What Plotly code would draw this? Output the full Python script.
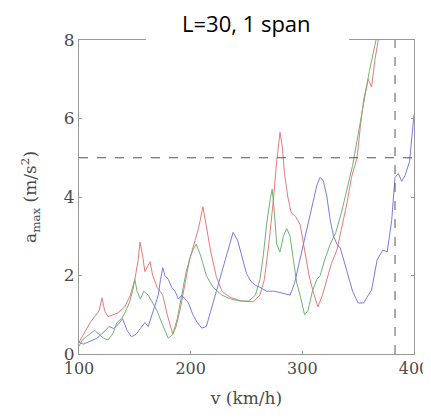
import plotly.graph_objects as go

# ---- data ----
v_red = [100,103,106,110,114,118,120.6,123,126,130,135,141,146,150,153,154.6,157,159,161,163.6,166,170,175,179,184,187,191,195,199,203,207,211,214,218,223,228,235,245,256,262,266,270,274,277,280,282,284,287,290,294,298,302,306,310,314,318,322,326,331,336,340,344,349,352,355,359,362,365,368]
a_red = [0.3,0.45,0.6,0.8,0.95,1.1,1.43,1.1,0.95,1.0,1.05,1.2,1.5,1.9,2.4,2.85,2.5,2.1,2.2,2.35,2.0,1.7,1.5,1.0,0.5,0.7,1.2,1.8,2.4,2.8,3.2,3.75,3.3,2.6,1.97,1.6,1.45,1.35,1.33,1.5,1.9,2.8,3.9,4.9,5.65,5.3,4.6,4.0,3.6,3.5,3.3,2.6,2.0,1.55,1.2,1.5,1.9,2.3,2.65,3.3,3.85,4.5,5.0,5.8,6.5,7.0,6.8,7.5,8.0]

v_green = [100,103,107,111,114,118,122,126,130,134,138,141,145,148,150,152,155,158,162,166,170,174,177,180,184,188,192,196,200,202,205,209,214,220,228,236,244,252,258,262,265,268,271,273,275,277,280,283,286,289,292,295,298,302,305,309,313,316,320,325,330,335,340,345,350,355,360,366]
a_green = [0.2,0.36,0.45,0.55,0.6,0.5,0.4,0.36,0.5,0.8,0.9,1.04,1.3,1.6,1.9,1.6,1.4,1.6,1.5,1.3,1.1,0.8,0.6,0.4,0.5,0.9,1.5,2.1,2.5,2.65,2.8,2.5,2.0,1.7,1.5,1.4,1.35,1.35,1.5,1.9,2.5,3.3,3.9,4.2,3.6,2.8,2.6,3.0,3.2,3.0,2.4,1.8,1.5,1.0,1.1,1.6,1.9,2.0,2.4,2.8,3.1,3.6,4.2,4.8,5.6,6.4,7.2,8.0]

v_blue = [100,104,108,112,116,120,124,127,131,135,139,143,147,151,155,159,162,165,168,171,173,175,177,180,183,186,189,192,195,198,202,206,210,214,218,222,226,230,234,238,242,246,250,254,258,262,268,275,282,289,293,297,301,305,309,313,316,319,322,325,328,331,334,337,341,345,350,355,358,362,367,372,376,380,383,386,389,392,396,400]
a_blue = [0.3,0.25,0.3,0.35,0.4,0.5,0.6,0.7,0.65,0.75,0.9,0.6,0.44,0.5,0.65,0.8,0.7,0.95,1.2,1.5,1.9,2.2,2.0,1.9,1.7,1.6,1.4,1.5,1.4,1.3,1.0,0.8,0.66,0.7,1.1,1.5,1.9,2.3,2.7,3.1,2.9,2.5,2.05,1.85,1.75,1.7,1.6,1.6,1.55,1.5,1.8,2.3,2.8,3.3,3.8,4.3,4.5,4.4,4.0,3.4,3.0,2.8,2.7,2.4,2.0,1.6,1.3,1.3,1.45,1.63,2.4,2.65,2.6,3.4,4.5,4.6,4.4,4.55,4.9,6.1]

limit_a = 5
limit_v = 383
x_range = [100, 400]
y_range = [0, 8]
x_ticks = [100, 200, 300, 400]
y_ticks = [0, 2, 4, 6, 8]

fig = go.Figure()
fig.add_trace(go.Scatter(x=v_red, y=a_red, mode="lines", line=dict(color="#e87a7a", width=1)))
fig.add_trace(go.Scatter(x=v_green, y=a_green, mode="lines", line=dict(color="#6fb46f", width=1)))
fig.add_trace(go.Scatter(x=v_blue, y=a_blue, mode="lines", line=dict(color="#7a7ae8", width=1)))

# limit lines
fig.add_trace(go.Scatter(x=x_range, y=[limit_a, limit_a], mode="lines",
                         line=dict(color="#555555", width=1, dash="dash")))
fig.add_trace(go.Scatter(x=[limit_v, limit_v], y=y_range, mode="lines",
                         line=dict(color="#555555", width=1, dash="dash")))

serif = dict(family="DejaVu Serif", size=17, color="#4a4a4a")
serif_x = dict(family="DejaVu Serif", size=16, color="#4a4a4a")
axis_common = dict(showline=True, linecolor="#999999", linewidth=1, mirror="ticks",
                   ticks="inside", ticklen=3, tickcolor="#999999", showgrid=False,
                   zeroline=False, automargin=False)

fig.update_xaxes(range=x_range, tickvals=x_ticks, tickfont=serif_x, **axis_common,
                 title=dict(text="v (km/h)", font=serif, standoff=15))
fig.update_yaxes(range=y_range, tickvals=y_ticks, tickfont=serif, **axis_common,
                 title=dict(text="a<sub>max</sub> (m/s<sup>2</sup>)", font=serif, standoff=22))

# white box hiding top axis line behind the title
fig.add_shape(type="rect", xref="paper", yref="paper", x0=0.2, x1=0.806, y0=0.98, y1=1.1,
              fillcolor="white", line=dict(width=0), layer="above")
fig.add_annotation(text="L=30, 1 span", xref="paper", yref="paper", x=0.5, y=1.055,
                   xanchor="center", yanchor="middle",
                   showarrow=False, font=dict(family="Open Sans", size=22, color="black"))

# the page body adds an 8px margin, so the figure is 8px smaller and shifted
fig.update_layout(width=423, height=400, margin=dict(l=71, r=17, t=32, b=54),
                  plot_bgcolor="white", paper_bgcolor="white", showlegend=False)

fig.write_html("out.html")
